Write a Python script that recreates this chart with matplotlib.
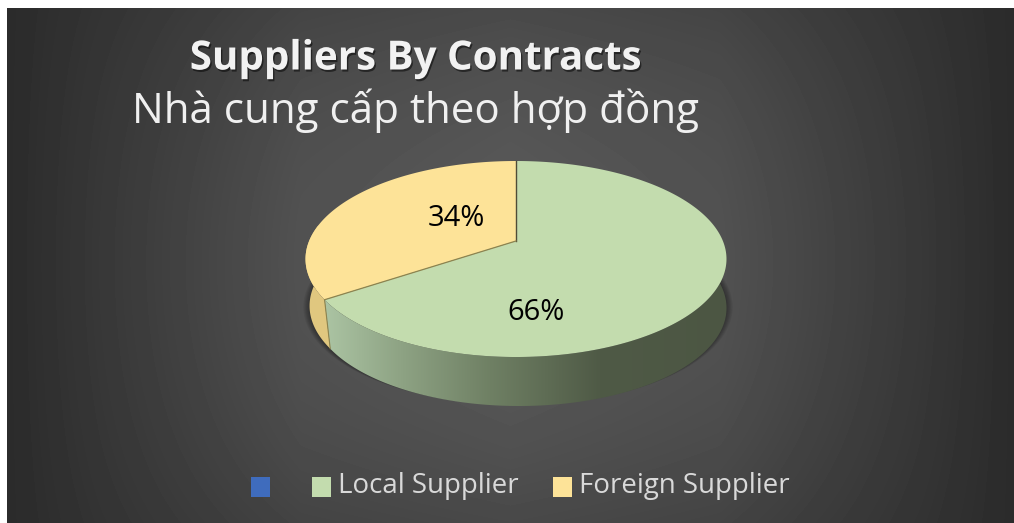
import numpy as np
import matplotlib
matplotlib.use('Agg')
import matplotlib.pyplot as plt
import matplotlib.patheffects as pe
from matplotlib.patches import Polygon, Rectangle

title_en = 'Suppliers By Contracts'
title_vi = 'Nhà cung cấp theo hợp đồng'
categories = ['', 'Local Supplier', 'Foreign Supplier']
values = [0, 65.6, 34.4]
swatch_colors = ['#3f6cbd', '#c3dcae', '#fde398']

plt.rcParams['font.family'] = ['Open Sans', 'DejaVu Sans']

fig = plt.figure(figsize=(10.14, 5.23), dpi=100, facecolor='white')
ax = fig.add_axes([0, 0, 1, 1])


def rim(theta, cx, cy, a):
    # circle seen in perspective, the pie centre is not the ellipse centre
    k = 0.1837
    b = 94.7
    d = 1 + k*np.sin(theta)
    return cx + a*np.cos(theta)/d, cy - b*np.sin(theta)/d


def hex2rgb(c):
    return np.array(matplotlib.colors.to_rgb(c))


# background, mostly a left-right fade
yy, xx = np.mgrid[8:523, 7:1014]
dx = np.abs(xx-510)/505
dy = np.abs(yy-262)/257
across = np.interp(dx, [0, 0.415, 0.61, 0.81, 1], [0.35, 0.32, 0.27, 0.22, 0.168])
shade = 0.168 + (across-0.168)*(1 - 0.35*dy**2)
ax.imshow(shade, cmap='gray', vmin=0, vmax=1, extent=(7, 1014, 523, 8), aspect='auto', zorder=0)

top_cx, top_cy, top_a = 516, 241, 206.9
bot_cx, bot_cy, bot_a = 519, 290, 204.0

# angles: first slice starts at 12 o'clock, going clockwise
fracs = np.array(values)/sum(values)
ends = np.radians(90) - 2*np.pi*np.cumsum(fracs)
local_start, local_end = np.radians(90), ends[1]
foreign_start, foreign_end = ends[1], ends[2]

# soft shadow under the pie
t = np.linspace(0, 2*np.pi, 300)
for i in range(7):
    x, y = rim(t, bot_cx - 1, bot_cy - 1, bot_a + 7 - i)
    ax.fill(x, y, color='black', alpha=0.06, lw=0, zorder=1)

# side walls
t_green = np.linspace(local_end, np.radians(12), 200)
x1, y1 = rim(t_green, top_cx, top_cy, top_a)
x2, y2 = rim(t_green, bot_cx, bot_cy, bot_a)
wall = Polygon(np.r_[np.c_[x1, y1], np.c_[x2, y2][::-1]], transform=ax.transData, fc='none', ec='none')
ax.add_patch(wall)
stops_x = [320, 400, 490, 600, 730]
stops_c = np.array([hex2rgb(c) for c in ['#adc6a5', '#8ea384', '#6f8064', '#4f5a46', '#4c5643']])
gx = np.linspace(320, 730, 300)
grad = np.stack([np.interp(gx, stops_x, stops_c[:, j]) for j in range(3)], axis=-1)[None, :, :]
im = ax.imshow(grad, extent=(320, 730, 420, 250), aspect='auto', zorder=2)
im.set_clip_path(wall)

t_yellow = np.linspace(np.radians(170), local_end + 2*np.pi, 80)
x1, y1 = rim(t_yellow, top_cx, top_cy, top_a)
x2, y2 = rim(t_yellow, bot_cx, bot_cy, bot_a)
x2 = x2 - 3.5*(t_yellow[-1]-t_yellow)/(t_yellow[-1]-t_yellow[0])  # keeps the left silhouette smooth
ax.fill(np.r_[x1, x2[::-1]], np.r_[y1, y2[::-1]], color='#e0c77f', lw=0, zorder=2)
xe, ye = rim(np.array([local_end]), top_cx, top_cy, top_a)
xb, yb = rim(np.array([local_end]), bot_cx, bot_cy, bot_a)
ax.plot([xe[0], xb[0]], [ye[0], yb[0]], color='#8c8450', lw=0.8, zorder=3)

# top faces, drawn from the values
t_local = np.linspace(local_start, local_end, 300)
x, y = rim(t_local, top_cx, top_cy, top_a)
ax.fill(np.r_[top_cx, x], np.r_[top_cy, y], color=swatch_colors[1], lw=0, zorder=4)
t_foreign = np.linspace(foreign_start, foreign_end, 200)
x, y = rim(t_foreign, top_cx, top_cy, top_a)
ax.fill(np.r_[top_cx, x], np.r_[top_cy, y], color=swatch_colors[2], lw=0, zorder=4)
ax.plot([top_cx, top_cx], [top_cy, 161], color='#4f4c38', lw=1.0, zorder=5)
ax.plot([top_cx, xe[0]], [top_cy, ye[0]], color='#8c8450', lw=0.9, zorder=5)

# labels
ax.text(456, 218, '%.0f%%' % values[2], ha='center', va='center', fontsize=21, color='black', zorder=6)
ax.text(536, 313, '%.0f%%' % values[1], ha='center', va='center', fontsize=21, color='black', zorder=6)

# titles
ax.text(415, 59, title_en, ha='center', va='center', fontsize=29, fontweight='bold', color='#f2f2f2', zorder=6,
        path_effects=[pe.withSimplePatchShadow(offset=(1, -1.5), shadow_rgbFace='black', alpha=0.5)])
ax.text(416, 111, title_vi, ha='center', va='center', fontsize=30.3, color='#f0f0f0', zorder=6)

# legend
swatch_x = [251, 312, 553]
text_x = [None, 338, 579]
for i in range(3):
    ax.add_patch(Rectangle((swatch_x[i], 477), 19, 20, fc=swatch_colors[i], ec='none', zorder=6))
    if categories[i]:
        ax.text(text_x[i], 486, categories[i], ha='left', va='center', fontsize=19.9, color='#d9d9d9', zorder=6)

ax.set_xlim(0, 1014)
ax.set_ylim(523, 0)
ax.axis('off')
fig.savefig('out.png', dpi=100, facecolor='white')
